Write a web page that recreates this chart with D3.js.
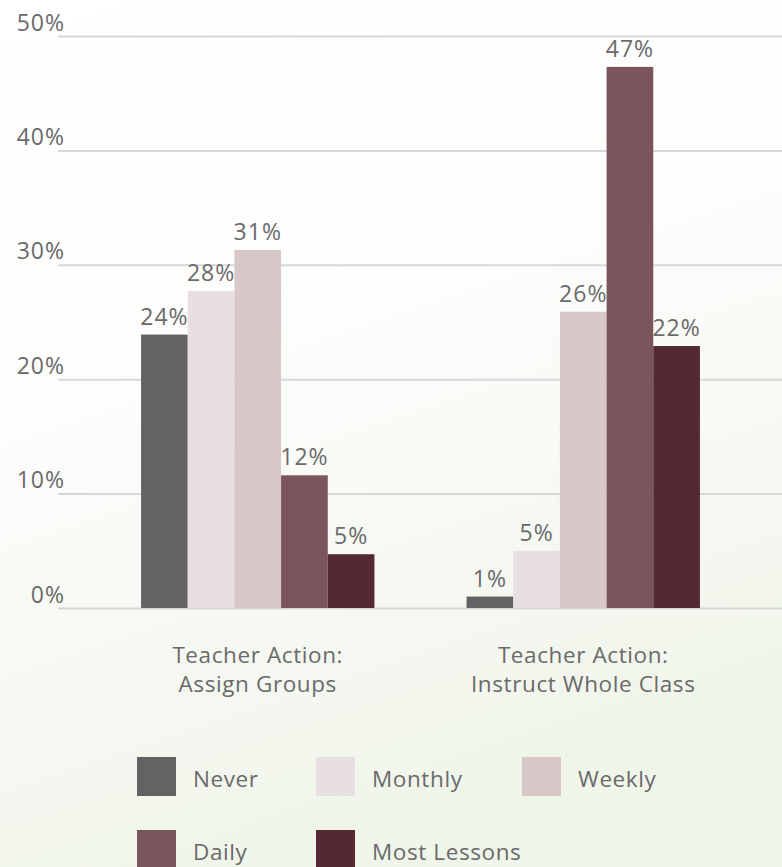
<!DOCTYPE html>
<html>
<head>
<meta charset="utf-8">
<script src="https://cdn.jsdelivr.net/npm/d3@7"></script>
<style>
  html, body { margin: 0; padding: 0; background: #fff; }
  svg { display: block; font-family: "Open Sans", Lato, sans-serif; }
</style>
</head>
<body>
<main></main>
<script>
// chart data

const groups = ['Teacher Action:\nAssign Groups', 'Teacher Action:\nInstruct Whole Class'];
const frequencies = ['Never', 'Monthly', 'Weekly', 'Daily', 'Most Lessons'];
const assignGroups = [23.9, 27.7, 31.3, 11.6, 4.7];
const instructWholeClass = [1.0, 5.0, 25.9, 47.3, 22.9];
const assignLabels = ['24%', '28%', '31%', '12%', '5%'];
const instructLabels = ['1%', '5%', '26%', '47%', '22%'];
const yTicks = [0, 10, 20, 30, 40, 50];
const colors = ['#636366', '#e8dfe3', '#d8c8c8', '#7a555b', '#552933'];

const w = 782;
const h = 867;
const textColor = '#6a6a6a';

const seriesByGroup = [assignGroups, instructWholeClass];
const labelsByGroup = [assignLabels, instructLabels];

const svg = d3.select('main').append('svg').attr('width', w).attr('height', h);

// soft background wash
const defs = svg.append('defs');
const bg = defs
  .append('linearGradient')
  .attr('id', 'bg')
  .attr('x1', 0)
  .attr('y1', 0)
  .attr('x2', 0.3)
  .attr('y2', 1);
bg.append('stop').attr('offset', '0%').attr('stop-color', '#ffffff');
bg.append('stop').attr('offset', '45%').attr('stop-color', '#fdfdfc');
bg.append('stop').attr('offset', '100%').attr('stop-color', '#f0f5ea');
svg.append('rect').attr('width', w).attr('height', h).attr('fill', 'url(#bg)');

const y = d3.scaleLinear().domain([0, 50]).range([608, 36]);

const x0 = d3
  .scaleBand()
  .domain(groups)
  .range([95, 746])
  .paddingInner(0.283)
  .paddingOuter(0.1415);

const x1 = d3.scaleBand().domain(frequencies).range([0, x0.bandwidth()]).padding(0);

const colorScale = d3.scaleOrdinal().domain(frequencies).range(colors);

// gridlines + tick labels
const yAxis = svg
  .append('g')
  .attr('transform', `translate(${w},0)`)
  .call(
    d3
      .axisLeft(y)
      .tickValues(yTicks)
      .tickSize(w - 58)
      .tickPadding(-7)
      .tickFormat((d) => `${d}%`)
  );
yAxis.select('.domain').remove();
yAxis.selectAll('.tick line').attr('stroke', '#d6d8d8').attr('stroke-width', 2);
yAxis
  .selectAll('.tick text')
  .attr('dy', -6)
  .attr('fill', textColor)
  .style('font-family', '"Open Sans", sans-serif')
  .style('font-size', '23px')
  .style('letter-spacing', '1px');

const group = svg
  .selectAll('g.group')
  .data(groups)
  .enter()
  .append('g')
  .attr('class', 'group')
  .attr('transform', (d) => `translate(${x0(d)},0)`);

const cell = group
  .selectAll('g.bar')
  .data((g, i) =>
    frequencies.map((f, j) => ({ f, v: seriesByGroup[i][j], label: labelsByGroup[i][j] }))
  )
  .enter()
  .append('g')
  .attr('class', 'bar');

cell
  .append('rect')
  .attr('x', (d) => x1(d.f))
  .attr('y', (d) => y(d.v))
  .attr('width', x1.bandwidth())
  .attr('height', (d) => y(0) - y(d.v))
  .attr('fill', (d) => colorScale(d.f));

cell
  .append('text')
  .attr('x', (d) => x1(d.f) + x1.bandwidth() / 2)
  .attr('y', (d) => y(d.v) - 10)
  .attr('text-anchor', 'middle')
  .attr('fill', textColor)
  .style('font-size', '23px')
  .style('letter-spacing', '1px')
  .text((d) => d.label);

// category labels, two lines each
const catText = svg
  .selectAll('text.cat')
  .data(groups)
  .enter()
  .append('text')
  .attr('class', 'cat')
  .attr('text-anchor', 'middle')
  .attr('fill', textColor)
  .style('font-size', '22.5px')
  .style('letter-spacing', '0.6px');

catText
  .selectAll('tspan')
  .data((d) => d.split('\n').map((t) => ({ t, g: d })))
  .enter()
  .append('tspan')
  .attr('x', (d) => x0(d.g) + x0.bandwidth() / 2)
  .attr('y', (d, i) => 663 + i * 29)
  .text((d) => d.t);

// legend
const legendCols = [137, 316, 522];
const legendRows = [757, 830];

const legend = svg
  .selectAll('g.legend')
  .data(frequencies)
  .enter()
  .append('g')
  .attr('class', 'legend')
  .attr('transform', (d, i) => `translate(${legendCols[i % 3]},${legendRows[Math.floor(i / 3)]})`);

legend
  .append('rect')
  .attr('width', 39)
  .attr('height', 39)
  .attr('fill', (d) => colorScale(d));

legend
  .append('text')
  .attr('x', 56)
  .attr('y', 30)
  .attr('fill', textColor)
  .style('font-size', '22.5px')
  .style('letter-spacing', '0.6px')
  .text((d) => d);
</script>
</body>
</html>
